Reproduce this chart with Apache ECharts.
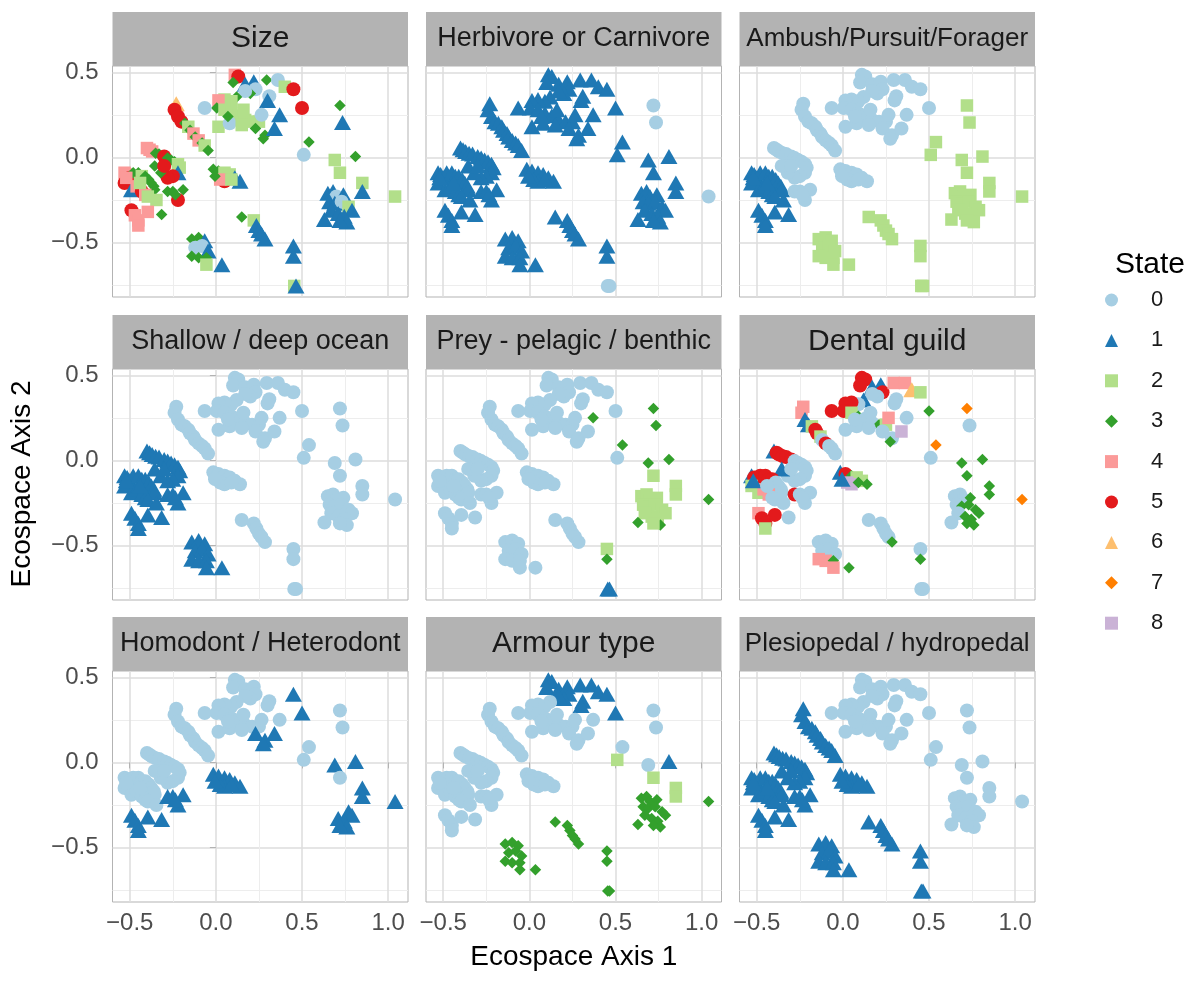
<!DOCTYPE html>
<html><head><meta charset="utf-8">
<script src="https://cdn.jsdelivr.net/npm/echarts@6/dist/echarts.min.js"></script>
<style>html,body{margin:0;padding:0;background:#fff}#c{width:1192px;height:981px}</style>
</head><body><div id="c"></div>
<script>
// ---------------- data ----------------
const facetTitles = ['Size', 'Herbivore or Carnivore', 'Ambush/Pursuit/Forager',
  'Shallow / deep ocean', 'Prey - pelagic / benthic', 'Dental guild',
  'Homodont / Heterodont', 'Armour type', 'Plesiopedal / hydropedal'];
const stateLabels = ['0', '1', '2', '3', '4', '5', '6', '7', '8'];
const tickValues = [-0.5, 0, 0.5, 1.0];
const xAxisTitle = 'Ecospace Axis 1';
const yAxisTitle = 'Ecospace Axis 2';
const legendTitle = 'State';

// ordination scores (same for every facet), grouped by cluster
const axis1 = [
  0.11,0.13,0.10,0.17,0.22,0.23,0.295,0.36,0.40,0.45,0.20,0.17,0.31,0.30,0.12,0.09,0.05,0.015,0.005,-0.065,0.05,0.09,0.13,0.17,0.21,0.25,0.265,0.23,0.285,0.275,0.34,0.37,0.50,0.015,0.08,0.15,0.07,0.16,
  -0.23,-0.24,-0.22,-0.20,-0.18,-0.16,-0.15,-0.13,-0.12,-0.10,-0.08,-0.065,-0.045,
  -0.40,-0.385,-0.37,-0.35,-0.33,-0.30,-0.28,-0.26,-0.24,-0.22,-0.21,-0.22,-0.25,-0.28,-0.32,-0.355,-0.30,
  -0.53,-0.515,-0.50,-0.48,-0.45,-0.43,-0.41,-0.39,-0.375,-0.36,-0.355,-0.53,-0.49,-0.46,-0.43,-0.41,-0.395,-0.345,-0.49,-0.47,-0.45,-0.45,-0.395,-0.315,-0.52,-0.44,
  -0.28,-0.25,-0.19,-0.22,-0.235,
  -0.015,0.015,0.05,0.08,0.11,0.14,0.05,0.025,-0.005,0.09,
  0.72,0.735,0.54,0.51,0.69,0.81,0.72,0.85,0.85,1.04,
  0.65,0.68,0.70,0.74,0.66,0.69,0.73,0.77,0.79,0.67,0.71,0.745,0.63,0.76,0.72,
  0.15,0.22,0.235,0.25,0.265,0.285,
  -0.14,-0.10,-0.065,-0.12,-0.08,-0.045,-0.14,-0.10,-0.055,-0.055,0.035,
  0.45,0.45,0.455,0.465
];
const axis2 = [
  0.485,0.475,0.44,0.43,0.445,0.40,0.455,0.455,0.415,0.40,0.375,0.39,0.36,0.335,0.355,0.33,0.34,0.335,0.29,0.29,0.28,0.26,0.245,0.22,0.21,0.21,0.25,0.17,0.13,0.11,0.17,0.25,0.29,0.18,0.20,0.19,0.24,0.28,
  0.315,0.28,0.24,0.21,0.20,0.18,0.16,0.14,0.12,0.10,0.085,0.07,0.04,
  0.055,0.045,0.035,0.025,0.02,0.006,-0.004,-0.015,-0.025,-0.04,-0.06,-0.09,-0.11,-0.12,-0.09,-0.05,-0.05,
  -0.09,-0.10,-0.12,-0.09,-0.09,-0.11,-0.11,-0.13,-0.15,-0.17,-0.19,-0.15,-0.19,-0.17,-0.20,-0.22,-0.23,-0.25,-0.31,-0.34,-0.37,-0.40,-0.32,-0.335,-0.12,-0.15,
  -0.20,-0.20,-0.19,-0.25,-0.22,
  -0.07,-0.08,-0.09,-0.10,-0.12,-0.14,-0.14,-0.13,-0.11,-0.13,
  0.305,0.205,0.09,0.015,-0.015,0.005,-0.09,-0.15,-0.20,-0.23,
  -0.21,-0.20,-0.23,-0.22,-0.26,-0.27,-0.26,-0.29,-0.31,-0.31,-0.33,-0.345,-0.365,-0.38,-0.37,
  -0.35,-0.37,-0.40,-0.43,-0.45,-0.48,
  -0.48,-0.47,-0.49,-0.53,-0.52,-0.55,-0.58,-0.59,-0.59,-0.63,-0.63,
  -0.52,-0.58,-0.755,-0.755
];

// character states per facet (null = not coded)
const stateSize = [
  4,5,3,1,1,0,3,0,2,5,3,0,0,1,3,2,2,4,3,0,2,2,2,2,2,2,0,3,3,3,1,1,5,2,0,2,3,2,
  6,5,5,5,3,2,3,4,3,4,3,2,3,
  4,4,4,3,3,5,3,3,3,2,2,1,5,5,3,3,5,
  4,4,5,3,3,2,3,3,3,3,3,5,1,4,5,4,2,2,5,4,4,4,4,3,4,2,
  3,3,3,5,3,
  3,3,2,2,1,1,5,4,3,2,
  3,1,3,0,2,3,2,2,1,2,
  1,1,0,1,1,1,0,2,1,1,1,1,1,1,1,
  3,2,1,1,1,1,
  3,3,1,0,0,1,3,3,3,2,1,
  1,1,2,1
];
const stateDiet = [
  1,1,1,1,1,1,1,1,1,1,1,1,1,1,1,1,1,1,1,1,1,1,1,1,1,1,1,1,1,1,1,1,1,1,1,1,1,1,
  1,1,1,1,1,1,1,1,1,1,1,1,1,
  1,1,1,1,1,1,1,1,1,1,1,1,1,1,1,1,1,
  1,1,1,1,1,1,1,1,1,1,1,1,1,1,1,1,1,1,1,1,1,1,1,1,1,1,
  1,1,1,1,1,
  1,1,1,1,1,1,1,1,1,1,
  0,0,1,1,1,1,1,1,1,0,
  1,1,1,1,1,1,1,1,1,1,1,1,1,1,1,
  1,1,1,1,1,1,
  1,1,1,1,1,1,1,1,1,1,1,
  1,1,0,0
];
const stateHunt = [
  0,0,0,0,0,0,0,0,0,0,0,0,0,0,0,0,0,0,0,0,0,0,0,0,0,0,0,0,0,0,0,0,0,0,0,0,0,0,
  0,0,0,0,0,0,0,0,0,0,0,0,0,
  0,0,0,0,0,0,0,0,0,0,0,0,0,0,0,0,0,
  1,1,1,1,1,1,1,1,1,1,1,1,1,1,1,1,1,1,1,1,1,1,1,1,1,1,
  0,0,0,0,0,
  0,0,0,0,0,0,0,0,0,0,
  2,2,2,2,2,2,2,2,2,2,
  2,2,2,2,2,2,2,2,2,2,2,2,2,2,2,
  2,2,2,2,2,2,
  2,2,2,2,2,2,2,2,2,2,2,
  2,2,2,2
];
const stateDepth = [
  0,0,0,0,0,0,0,0,0,0,0,0,0,0,0,0,0,0,0,0,0,0,0,0,0,0,0,0,0,0,0,0,0,0,0,0,0,0,
  0,0,0,0,0,0,0,0,0,0,0,0,0,
  1,1,1,1,1,1,1,1,1,1,1,1,1,1,1,1,1,
  1,1,1,1,1,1,1,1,1,1,1,1,1,1,1,1,1,1,1,1,1,1,1,1,1,1,
  1,1,1,1,1,
  0,0,0,0,0,0,0,0,0,0,
  0,0,0,0,0,0,0,0,0,0,
  0,0,0,0,0,0,0,0,0,0,0,0,0,0,0,
  0,0,0,0,0,0,
  1,1,1,1,1,1,1,1,1,1,1,
  0,0,0,0
];
const statePrey = [
  0,0,0,0,0,0,0,0,0,0,0,0,0,0,0,0,0,0,0,0,0,0,0,0,0,0,0,0,0,0,0,3,0,0,0,0,0,0,
  0,0,0,0,0,0,0,0,0,0,0,0,0,
  0,0,0,0,0,0,0,0,0,0,0,0,0,0,0,0,0,
  0,0,0,0,0,0,0,0,0,0,0,0,0,0,0,0,0,0,0,0,0,0,0,0,0,0,
  0,0,0,0,0,
  0,0,0,0,0,0,0,0,0,0,
  3,3,3,0,3,3,2,2,2,3,
  2,2,2,2,2,2,2,2,2,2,2,2,3,3,2,
  0,0,0,0,0,0,
  0,0,0,0,0,0,0,0,0,0,0,
  2,3,1,1
];
const stateDental = [
  5,5,5,1,1,5,4,4,6,2,0,0,0,0,1,0,5,5,5,5,2,3,0,0,3,2,4,0,0,3,8,0,3,0,0,0,0,0,
  4,4,1,1,2,5,5,2,0,5,0,0,0,
  1,5,5,5,5,5,0,0,0,0,0,0,0,0,0,1,0,
  1,5,5,5,5,5,5,0,0,0,0,2,2,4,4,0,0,0,4,5,5,2,5,0,1,0,
  5,0,0,0,0,
  1,5,3,2,2,3,8,8,1,3,
  7,0,7,0,3,3,3,3,3,7,
  0,0,0,3,0,3,3,3,3,0,3,3,0,3,3,
  0,0,0,0,0,3,
  0,0,0,0,0,0,4,4,3,4,3,
  0,3,0,0
];
const stateTeeth = [
  0,0,0,0,0,0,null,null,null,1,0,0,0,0,0,0,0,0,0,0,0,0,0,0,0,0,0,1,1,1,1,0,1,0,0,0,0,0,
  0,0,0,0,0,0,0,0,0,0,0,0,0,
  0,0,0,0,0,0,0,0,0,0,0,0,0,0,0,0,0,
  0,0,0,0,0,0,0,0,0,0,0,0,0,0,0,0,0,0,1,1,1,1,1,1,0,0,
  1,1,1,1,1,
  1,1,1,1,1,1,1,1,1,1,
  0,0,0,0,1,1,0,1,1,1,
  null,null,null,null,null,null,null,1,1,null,1,1,null,1,1,
  null,null,null,null,null,null,
  null,null,null,null,null,null,null,null,null,null,null,
  null,null,null,null
];
const stateArmour = [
  1,1,1,1,1,1,1,1,1,1,1,1,1,1,0,0,0,0,0,0,0,0,0,0,0,0,0,0,0,0,0,0,1,0,0,0,0,0,
  0,0,0,0,0,0,0,0,0,0,0,0,0,
  0,0,0,0,0,0,0,0,0,0,0,0,0,0,0,0,0,
  0,0,0,0,0,0,0,0,0,0,0,0,0,0,0,0,0,0,0,0,0,0,0,0,0,0,
  0,0,0,0,0,
  0,0,0,0,0,0,0,0,0,0,
  0,0,0,2,0,1,2,2,2,3,
  3,3,3,3,3,3,3,3,3,3,3,3,3,3,3,
  3,3,3,3,3,3,
  3,3,3,3,3,3,3,3,3,3,3,
  3,3,3,3
];
const stateLimb = [
  0,0,0,0,0,0,0,0,0,0,0,0,0,0,0,0,0,0,0,0,0,0,0,0,0,0,0,0,0,0,0,0,0,0,0,0,0,0,
  1,1,1,1,1,1,1,1,1,1,1,1,1,
  1,1,1,1,1,1,1,1,1,1,1,1,1,1,1,1,1,
  1,1,1,1,1,1,1,1,1,1,1,1,1,1,1,1,1,1,1,1,1,1,1,1,1,1,
  1,1,1,1,1,
  1,1,1,1,1,1,1,1,1,1,
  0,0,0,0,0,0,0,0,0,0,
  0,0,0,0,0,0,0,0,0,0,0,0,0,0,0,
  1,1,1,1,1,1,
  1,1,1,1,1,1,1,1,1,1,1,
  1,1,1,1
];
const facetStates = [stateSize, stateDiet, stateHunt, stateDepth, statePrey,
  stateDental, stateTeeth, stateArmour, stateLimb];

// ---------------- styles ----------------
const FONT = '"Liberation Sans", Arial, Helvetica, sans-serif';
const stateColors = ['#A6CEE3', '#1F78B4', '#B2DF8A', '#33A02C', '#FB9A99',
  '#E31A1C', '#FDBF6F', '#FF7F00', '#CAB2D6'];
const stateShapes = ['circle', 'triangle', 'rect', 'diamond', 'rect', 'circle',
  'triangle', 'diamond', 'rect'];
const shapeSize = { circle: 14, triangle: [17, 15], rect: 12.5, diamond: 11.5 };
const stripFont = [30, 27, 26, 27, 27, 30, 27, 30, 26];

const colLeft = [112.5, 426, 739.5];
const rowTop = [66, 369, 671];
const PW = 295.5, PH = 231, STRIP = 54;
const X_MIN = -0.6, X_MAX = 1.115, Y_MIN = -0.82, Y_MAX = 0.537;

const fmt = v => (v < 0 ? '\u2212' : '') + Math.abs(v).toFixed(1);

const grids = [], xAxes = [], yAxes = [], series = [], graphics = [];
for (let f = 0; f < 9; f++) {
  const r = Math.floor(f / 3), c = f % 3;
  grids.push({ left: colLeft[c], top: rowTop[r], width: PW, height: PH,
    show: true, borderColor: '#b3b3b3', borderWidth: 1, backgroundColor: '#fff' });
  xAxes.push({
    type: 'value', gridIndex: f, min: X_MIN, max: X_MAX,
    minInterval: 0.5, maxInterval: 0.5,
    axisLine: { show: false },
    axisTick: { show: r === 2, length: 6, customValues: tickValues,
      lineStyle: { color: '#b3b3b3', width: 1 } },
    axisLabel: { show: r === 2, customValues: tickValues, margin: 9,
      fontFamily: FONT, fontSize: 24, color: '#4d4d4d', formatter: fmt },
    splitLine: { show: true, lineStyle: { color: '#dcdcdc', width: 1.5 } },
    minorTick: { show: false, splitNumber: 2 },
    minorSplitLine: { show: true, lineStyle: { color: '#ededed', width: 1 } }
  });
  yAxes.push({
    type: 'value', gridIndex: f, min: Y_MIN, max: Y_MAX,
    minInterval: 0.5, maxInterval: 0.5,
    axisLine: { show: false },
    axisTick: { show: c === 0, length: 6, customValues: tickValues,
      lineStyle: { color: '#b3b3b3', width: 1 } },
    axisLabel: { show: c === 0, customValues: tickValues, margin: 14,
      fontFamily: FONT, fontSize: 24, color: '#4d4d4d', formatter: fmt },
    splitLine: { show: true, lineStyle: { color: '#dcdcdc', width: 1.5 } },
    minorTick: { show: false, splitNumber: 2 },
    minorSplitLine: { show: true, lineStyle: { color: '#ededed', width: 1 } }
  });
  const st = facetStates[f];
  const pts = [];
  for (let i = 0; i < axis1.length; i++) {
    const s = st[i];
    if (s === null || s === undefined) continue;
    const shp = stateShapes[s];
    pts.push({ value: [axis1[i], axis2[i]], symbol: shp, symbolSize: shapeSize[shp],
      itemStyle: { color: stateColors[s], opacity: 1 } });
  }
  series.push({ type: 'scatter', xAxisIndex: f, yAxisIndex: f, data: pts,
    animation: false, silent: true, clip: true, itemStyle: { opacity: 1 } });
  // facet strip
  graphics.push({ type: 'rect', shape: { x: colLeft[c], y: rowTop[r] - STRIP, width: PW, height: STRIP },
    style: { fill: '#b3b3b3' }, z: 10 });
  graphics.push({ type: 'text', x: colLeft[c] + PW / 2, y: rowTop[r] - STRIP / 2,
    style: { text: facetTitles[f], fill: '#1a1a1a', font: stripFont[f] + 'px ' + FONT,
      align: 'center', verticalAlign: 'middle' }, z: 11 });
}
// legend series (no data, only for the legend keys)
stateLabels.forEach((name, s) => {
  series.push({ type: 'scatter', name: name, xAxisIndex: 0, yAxisIndex: 0, data: [],
    symbol: stateShapes[s], itemStyle: { color: stateColors[s], opacity: 1 }, animation: false });
});
// axis titles and legend title
graphics.push({ type: 'text', x: (colLeft[0] + colLeft[2] + PW) / 2, y: 957,
  style: { text: xAxisTitle, fill: '#000', font: '28px ' + FONT, align: 'center', verticalAlign: 'middle' } });
graphics.push({ type: 'text', x: 22, y: (rowTop[0] + rowTop[2] + PH) / 2, rotation: Math.PI / 2,
  style: { text: yAxisTitle, fill: '#000', font: '28px ' + FONT, align: 'center', verticalAlign: 'middle' } });
graphics.push({ type: 'text', x: 1150, y: 265,
  style: { text: legendTitle, fill: '#000', font: '30px ' + FONT, align: 'center', verticalAlign: 'middle' } });

const chart = echarts.init(document.getElementById('c'), null, { renderer: 'canvas', devicePixelRatio: 1 });
chart.setOption({
  backgroundColor: '#fff',
  animation: false,
  grid: grids, xAxis: xAxes, yAxis: yAxes, series: series, graphic: graphics,
  legend: {
    orient: 'vertical', left: 1105, top: 289, padding: 0,
    itemWidth: 13, itemHeight: 13, itemGap: 18.4, selectedMode: false,
    itemStyle: { opacity: 1 },
    textStyle: { fontFamily: FONT, fontSize: 22, color: '#1a1a1a', padding: [0, 0, 0, 28] },
    data: stateLabels.map((n, s) => ({ name: n, icon: stateShapes[s] }))
  }
});
</script></body></html>
